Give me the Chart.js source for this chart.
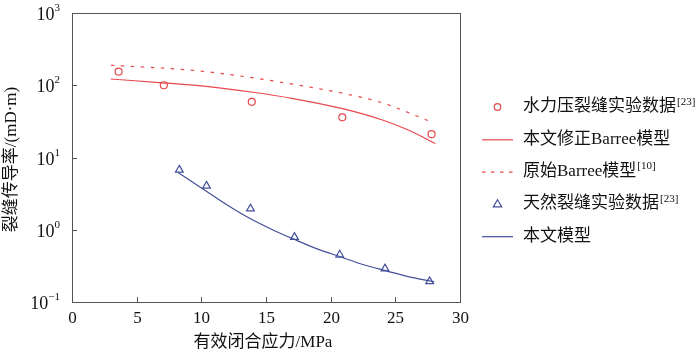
<!DOCTYPE html>
<html><head><meta charset="utf-8">
<script src="https://cdn.jsdelivr.net/npm/chart.js@4/dist/chart.umd.min.js"></script>
<style>html,body{margin:0;padding:0;background:#fff}#wrap{width:700px;height:356px}</style>
</head><body><div id="wrap"><canvas id="c" width="700" height="356"></canvas></div>
<script>
// ---- data ----
const hydroX = [3.6, 7.1, 13.9, 20.9, 27.8];
const hydroY = [154, 100, 59, 36, 21];
const modBarreeX = [3, 7, 10, 14, 17, 21, 24, 26, 28.1];
const modBarreeY = [122, 108, 98, 80, 66, 47, 33, 24, 15.6];
const origBarreeX = [3, 6, 9, 12, 15, 18, 21, 24, 27.8];
const origBarreeY = [189, 177, 163, 142, 119, 97, 77, 57, 31];
const natX = [8.3, 10.4, 13.8, 17.2, 20.7, 24.2, 27.65];
const natY = [6.75, 4.05, 1.96, 0.79, 0.45, 0.29, 0.193];
const modelX = [8.2, 10.3, 12, 13.7, 15.5, 17.3, 19, 20.8, 22.5, 24.3, 26, 28];
const modelY = [6.2, 3.5, 2.2, 1.45, 1.0, 0.72, 0.54, 0.42, 0.33, 0.27, 0.225, 0.19];
const xTicks = [0, 5, 10, 15, 20, 25, 30];
const yTickExp = [-1, 0, 1, 2, 3];
const legendItems = [
  {text: '水力压裂缝实验数据', sup: '[23]', kind: 'circle'},
  {text: '本文修正Barree模型', sup: '', kind: 'line'},
  {text: '原始Barree模型', sup: '[10]', kind: 'dash'},
  {text: '天然裂缝实验数据', sup: '[23]', kind: 'tri'},
  {text: '本文模型', sup: '', kind: 'bline'}
];
const xTitle = '有效闭合应力/MPa';
const yTitle = '裂缝传导率/(mD·m)';

const RED = '#e8474c';
const BLUE = '#44509a';
const AXIS = '#555';
const FONT = '"Liberation Serif", "Noto Sans CJK SC", serif';
const pts = (xs, ys) => xs.map((x, i) => ({x, y: ys[i]}));

const decor = {
  id: 'decor',
  afterDraw(chart) {
    const ctx = chart.ctx, a = chart.chartArea;
    const xs = chart.scales.x, ys = chart.scales.y;
    ctx.save();
    ctx.strokeStyle = AXIS; ctx.lineWidth = 1;
    ctx.strokeRect(Math.round(a.left) + 0.5, Math.round(a.top) + 0.5, Math.round(a.right - a.left), Math.round(a.bottom - a.top));
    ctx.fillStyle = '#111';
    ctx.font = '17px ' + FONT;
    ctx.textAlign = 'center'; ctx.textBaseline = 'alphabetic';
    xTicks.forEach(v => {
      const px = Math.round(xs.getPixelForValue(v)) + 0.5;
      ctx.beginPath(); ctx.moveTo(px, a.bottom); ctx.lineTo(px, a.bottom - 5); ctx.stroke();
      ctx.fillText(String(v), px, a.bottom + 21);
    });
    yTickExp.forEach(e => {
      const py = Math.round(ys.getPixelForValue(Math.pow(10, e))) + 0.5;
      ctx.beginPath(); ctx.moveTo(a.left, py); ctx.lineTo(a.left + 5, py); ctx.stroke();
      const s = String(e).replace('-', '−');
      ctx.font = '11px ' + FONT;
      const supW = ctx.measureText(s).width;
      ctx.font = '18px ' + FONT;
      ctx.textAlign = 'right';
      const baseRight = 60 - supW;
      ctx.fillText('10', baseRight, py + 6);
      ctx.font = '11px ' + FONT;
      ctx.textAlign = 'left';
      ctx.fillText(s, baseRight, py - 3);
    });
    ctx.font = '17px ' + FONT;
    ctx.textAlign = 'center'; ctx.textBaseline = 'middle';
    ctx.fillText(xTitle, (a.left + a.right) / 2 - 3, 343);
    ctx.save();
    ctx.translate(12, (a.top + a.bottom) / 2 + 2);
    ctx.rotate(-Math.PI / 2);
    ctx.fillText(yTitle, 0, 0);
    ctx.restore();
    const ly0 = 107, dy = 32.3, sx0 = 482, sx1 = 513, tx = 523;
    legendItems.forEach((it, i) => {
      const y = ly0 + i * dy;
      ctx.lineWidth = 1.2;
      if (it.kind === 'circle') {
        ctx.strokeStyle = RED;
        ctx.beginPath(); ctx.arc((sx0 + sx1) / 2, y, 3.3, 0, Math.PI * 2); ctx.stroke();
      } else if (it.kind === 'tri') {
        ctx.strokeStyle = BLUE;
        const cx = (sx0 + sx1) / 2, r = 4.2;
        ctx.beginPath(); ctx.moveTo(cx, y - r); ctx.lineTo(cx + r, y + r * 0.7); ctx.lineTo(cx - r, y + r * 0.7); ctx.closePath(); ctx.stroke();
      } else {
        ctx.strokeStyle = it.kind === 'bline' ? BLUE : RED;
        ctx.setLineDash(it.kind === 'dash' ? [3.5, 5.5] : []);
        ctx.beginPath(); ctx.moveTo(sx0, y + 0.5); ctx.lineTo(sx1, y + 0.5); ctx.stroke();
        ctx.setLineDash([]);
      }
      ctx.fillStyle = '#111';
      ctx.font = '17px ' + FONT;
      ctx.textAlign = 'left'; ctx.textBaseline = 'middle';
      ctx.fillText(it.text, tx, y);
      if (it.sup) {
        const w = ctx.measureText(it.text).width;
        ctx.font = '11px ' + FONT;
        ctx.fillText(it.sup, tx + w + 1, y - 5);
      }
    });
    ctx.restore();
  }
};

new Chart(document.getElementById('c'), {
  type: 'line',
  data: {
    datasets: [
      {label: 'hydro', data: pts(hydroX, hydroY), showLine: false, pointStyle: 'circle', pointRadius: 3.5,
       pointBorderColor: RED, pointBackgroundColor: 'rgba(0,0,0,0)', pointBorderWidth: 1.2},
      {label: 'modBarree', data: pts(modBarreeX, modBarreeY), borderColor: RED, borderWidth: 1.2, pointRadius: 0,
       cubicInterpolationMode: 'monotone'},
      {label: 'origBarree', data: pts(origBarreeX, origBarreeY), borderColor: RED, borderWidth: 1.2, pointRadius: 0,
       borderDash: [3.5, 6.5], cubicInterpolationMode: 'monotone'},
      {label: 'nat', data: pts(natX, natY), showLine: false, pointStyle: 'triangle', pointRadius: 4.5,
       pointBorderColor: BLUE, pointBackgroundColor: 'rgba(0,0,0,0)', pointBorderWidth: 1.2},
      {label: 'model', data: pts(modelX, modelY), borderColor: BLUE, borderWidth: 1.2, pointRadius: 0,
       cubicInterpolationMode: 'monotone'}
    ]
  },
  options: {
    responsive: false, animation: false, devicePixelRatio: 1,
    layout: {padding: {left: 72, right: 240, top: 13, bottom: 54}},
    plugins: {legend: {display: false}, tooltip: {enabled: false}},
    scales: {
      x: {type: 'linear', min: 0, max: 30, ticks: {display: false}, grid: {display: false},
          border: {display: false}, afterFit(s) { s.height = 0; }},
      y: {type: 'logarithmic', min: 0.1, max: 1000, ticks: {display: false}, grid: {display: false},
          border: {display: false}, afterFit(s) { s.width = 0; }}
    }
  },
  plugins: [decor]
});
</script>
</body></html>
